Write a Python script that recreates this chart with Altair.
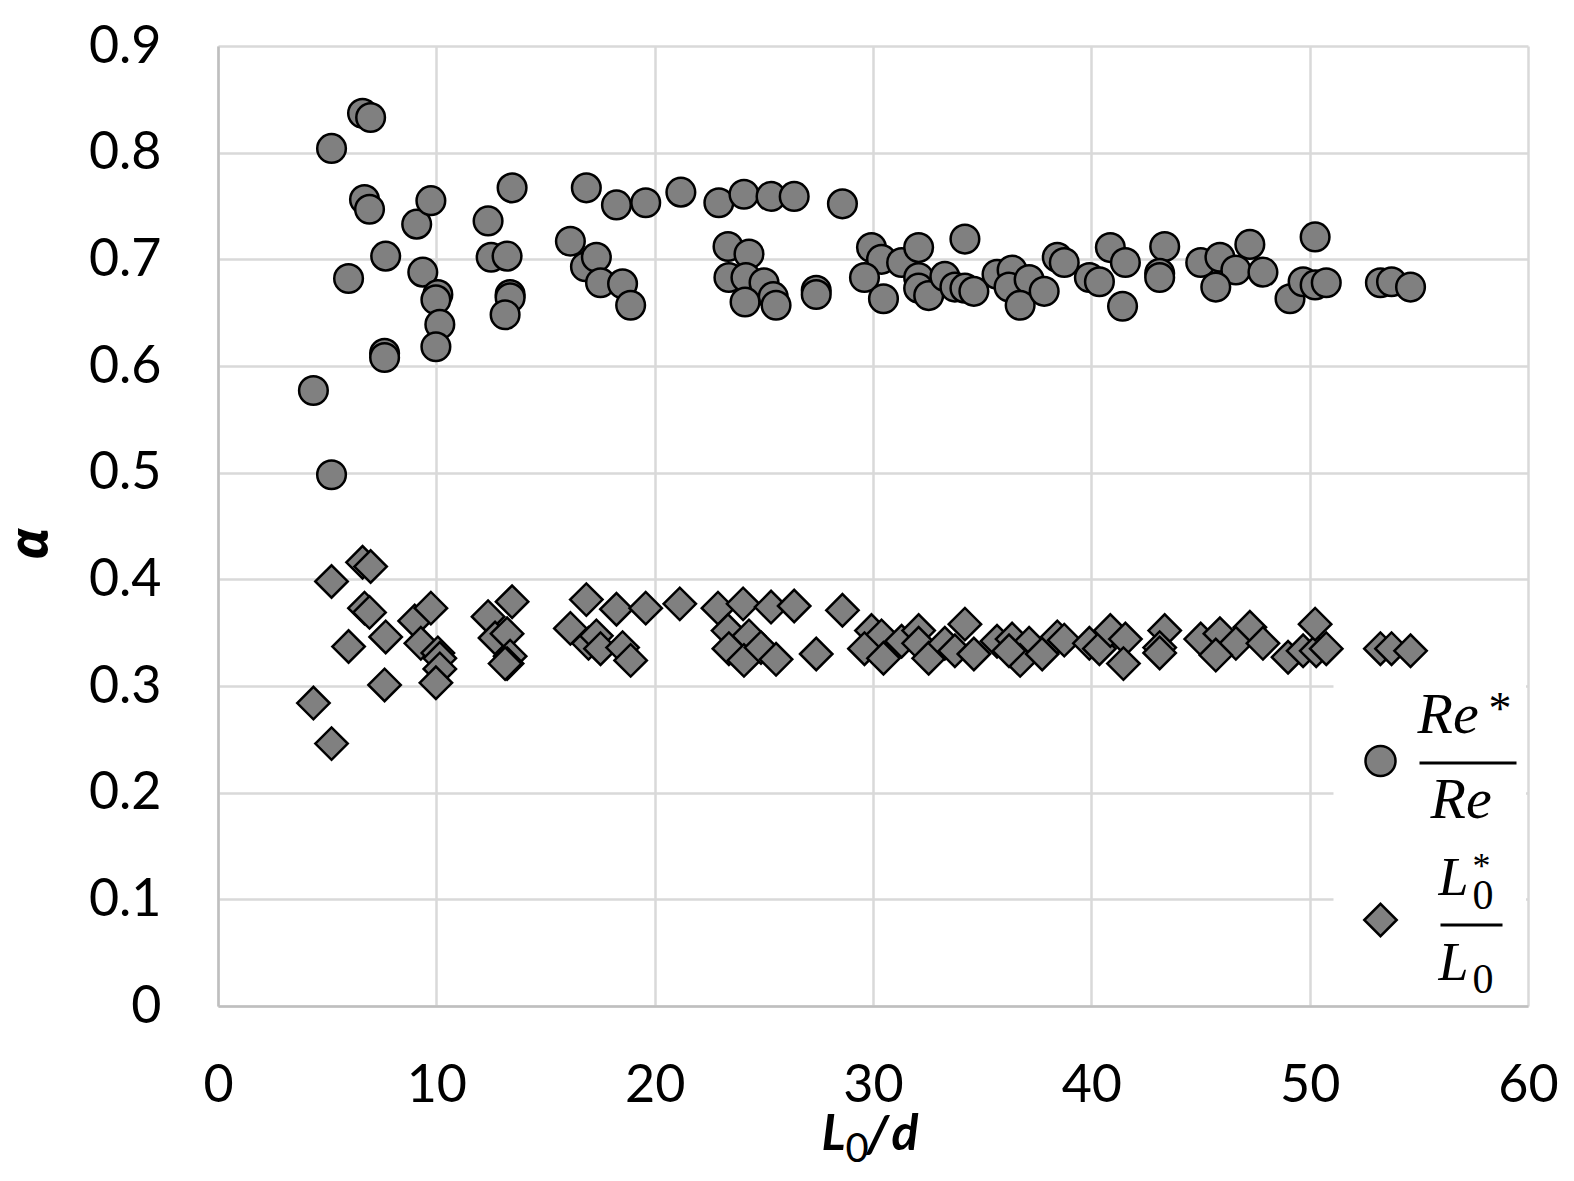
import altair as alt
import pandas as pd

# ---- data ----
re_x = [4.37, 5.20, 5.20, 5.98, 6.62, 6.99, 6.71, 6.94, 7.68, 7.63, 7.63, 9.10, 9.75, 9.38, 10.07, 9.98, 10.16, 9.98,
        13.47, 12.37, 12.51, 13.24, 13.38, 13.38, 13.15, 16.87, 18.25, 19.59, 16.14, 16.83, 17.33, 17.52, 18.53, 18.90,
        21.20, 22.94, 24.09, 25.33, 26.39, 28.60, 23.36, 24.32, 23.40, 24.18, 25.01, 25.43, 25.56, 24.14, 27.40, 27.40,
        29.93, 30.39, 29.61, 30.48, 31.31, 32.09, 34.21, 32.09, 32.09, 32.55, 33.29, 33.75, 34.21, 34.62, 35.68, 36.37,
        36.23, 37.15, 36.74, 37.84, 38.44, 38.76, 39.91, 40.37, 40.87, 41.56, 41.43, 43.36, 43.13, 43.13, 45.01, 45.89,
        47.26, 46.62, 47.86, 45.70, 49.10, 49.70, 50.25, 50.76, 50.25, 53.24, 53.75, 54.62]
re_y = [0.577, 0.498, 0.804, 0.682, 0.837, 0.833, 0.756, 0.747, 0.703, 0.612, 0.608, 0.733, 0.755, 0.688, 0.667, 0.662,
        0.639, 0.618, 0.767, 0.736, 0.702, 0.703, 0.667, 0.664, 0.648, 0.767, 0.751, 0.753, 0.717, 0.693, 0.702, 0.678,
        0.677, 0.657, 0.763, 0.753, 0.761, 0.759, 0.759, 0.752, 0.712, 0.705, 0.683, 0.683, 0.678, 0.665, 0.657, 0.660,
        0.671, 0.667, 0.711, 0.700, 0.683, 0.663, 0.697, 0.711, 0.719, 0.683, 0.673, 0.666, 0.684, 0.674, 0.673, 0.670,
        0.686, 0.690, 0.674, 0.681, 0.657, 0.670, 0.702, 0.697, 0.683, 0.679, 0.711, 0.697, 0.656, 0.712, 0.687, 0.683,
        0.697, 0.702, 0.714, 0.690, 0.688, 0.674, 0.663, 0.679, 0.676, 0.678, 0.721, 0.678, 0.679, 0.674]

l0_x = [6.62, 6.99, 5.20, 6.71, 6.94, 9.01, 9.75, 7.68, 5.98, 9.29, 10.07, 10.16, 10.16, 9.98, 7.63, 4.37, 5.20,
        13.47, 12.37, 12.69, 13.24, 13.38, 13.24, 13.15, 16.87, 18.25, 19.59, 16.14, 16.97, 17.33, 17.52, 18.53, 18.90,
        21.15, 22.90, 24.05, 25.33, 26.39, 28.60, 23.36, 24.32, 23.40, 24.09, 24.87, 25.56, 27.40, 29.93, 30.39, 29.61,
        30.48, 31.31, 32.09, 32.09, 32.55, 34.21, 33.29, 33.75, 34.62, 35.68, 36.37, 37.15, 36.74, 36.23, 37.75, 38.44,
        38.76, 39.91, 40.37, 40.87, 41.56, 41.47, 43.36, 43.13, 43.13, 45.01, 45.89, 47.26, 46.62, 47.86, 45.70, 49.01,
        49.70, 50.30, 50.76, 50.25, 53.24, 53.75, 54.62]
l0_y = [0.416, 0.412, 0.398, 0.373, 0.369, 0.361, 0.373, 0.346, 0.337, 0.340, 0.331, 0.326, 0.316, 0.303, 0.301, 0.284,
        0.246, 0.379, 0.365, 0.345, 0.349, 0.328, 0.321, 0.321, 0.381, 0.372, 0.373, 0.354, 0.340, 0.347, 0.335, 0.336,
        0.324, 0.377, 0.373, 0.377, 0.374, 0.375, 0.371, 0.352, 0.347, 0.335, 0.324, 0.336, 0.325, 0.330, 0.352, 0.347,
        0.335, 0.326, 0.342, 0.352, 0.340, 0.326, 0.358, 0.340, 0.333, 0.330, 0.342, 0.344, 0.340, 0.324, 0.333, 0.330,
        0.346, 0.343, 0.340, 0.335, 0.352, 0.344, 0.321, 0.352, 0.336, 0.331, 0.344, 0.349, 0.355, 0.340, 0.340, 0.329,
        0.327, 0.333, 0.333, 0.335, 0.358, 0.335, 0.335, 0.333]

x_ticks = [0, 10, 20, 30, 40, 50, 60]
y_ticks = [0, 0.1, 0.2, 0.3, 0.4, 0.5, 0.6, 0.7, 0.8, 0.9]

# ---- layout ----
W, H = 1310, 960
OX, OY = 217.5, 46          # page position of the plot origin (for decorations)
FILL = "#808080"
GRID = "#d9d9d9"
DOMAIN = "#bfbfbf"

df_c = pd.DataFrame({"x": re_x, "y": re_y})
df_d = pd.DataFrame({"x": l0_x, "y": l0_y})
one = pd.DataFrame({"k": [0]})

xs = alt.Scale(domain=[0, 60], nice=False)
ys = alt.Scale(domain=[0, 0.9], nice=False)

xaxis = alt.Axis(values=x_ticks, title=None, grid=True, ticks=False, labelFont="Lato", labelFontSize=52,
                 labelColor="black", labelPadding=54, domainColor=DOMAIN, domainWidth=2.5,
                 gridColor=GRID, gridWidth=2.5, labelFlush=False, labelOverlap=False, format="d")
yaxis = alt.Axis(values=y_ticks, title=None, grid=True, ticks=False, labelFont="Lato", labelFontSize=52,
                 labelColor="black", labelPadding=57, domainColor=DOMAIN, domainWidth=2.5,
                 gridColor=GRID, gridWidth=2.5, labelFlush=False, labelOverlap=False,
                 labelExpr="datum.value == 0 ? '0' : format(datum.value, '.1f')")

base_c = alt.Chart(df_c).mark_point(shape="circle", filled=True, fill=FILL, stroke="black", strokeWidth=2.5,
                                    size=820, opacity=1, fillOpacity=1).encode(
    x=alt.X("x:Q", scale=xs, axis=xaxis), y=alt.Y("y:Q", scale=ys, axis=yaxis))
base_d = alt.Chart(df_d).mark_point(shape="diamond", filled=True, fill=FILL, stroke="black", strokeWidth=2.5,
                                    size=1050, opacity=1, fillOpacity=1).encode(
    x=alt.X("x:Q", scale=xs), y=alt.Y("y:Q", scale=ys))

# legend box (white, covers grid lines)
leg_box = alt.Chart(one).mark_rect(fill="white", stroke=None).encode(
    x=alt.value(1333 - OX), x2=alt.value(W - 2), y=alt.value(680 - OY), y2=alt.value(H - 2))

leg_c = alt.Chart(one).mark_point(shape="circle", filled=True, fill=FILL, stroke="black", strokeWidth=2.5,
                                  size=900, opacity=1).encode(x=alt.value(1380 - OX), y=alt.value(761 - OY))
leg_d = alt.Chart(one).mark_point(shape="diamond", filled=True, fill=FILL, stroke="black", strokeWidth=2.5,
                                  size=1050, opacity=1).encode(x=alt.value(1380 - OX), y=alt.value(920 - OY))


def txt(s, px, py, size, style="italic", weight="normal", font="Liberation Serif", align="left", angle=0,
        baseline="alphabetic"):
    return alt.Chart(one).mark_text(text=s, font=font, fontSize=size, fontStyle=style, fontWeight=weight,
                                    align=align, baseline=baseline, angle=angle, color="black").encode(
        x=alt.value(px - OX), y=alt.value(py - OY))


def hline(px1, px2, py, w=3):
    return alt.Chart(one).mark_rule(color="black", strokeWidth=w).encode(
        x=alt.value(px1 - OX), x2=alt.value(px2 - OX), y=alt.value(py - OY))


legend_parts = [
    txt("Re", 1417, 733, 58),
    txt("*", 1488, 724, 46, style="normal"),
    hline(1419, 1516, 763),
    txt("Re", 1430, 818, 58),
    txt("L", 1438, 895, 54),
    txt("0", 1472, 909, 42, style="normal"),
    txt("*", 1472, 878, 36, style="normal"),
    hline(1440, 1502, 925),
    txt("L", 1438, 980, 54),
    txt("0", 1472, 993, 42, style="normal"),
]

# axis titles
title_parts = [
    txt("L", 821, 1150, 50, style="italic", weight="bold", font="Lato"),
    txt("0", 845, 1162, 40, style="normal", weight="normal", font="Lato"),
    txt("/", 866, 1152, 52, style="italic", weight="bold", font="Lato"),
    txt("d", 891, 1150, 50, style="italic", weight="bold", font="Lato"),
    txt("α", 46, 544, 53, style="italic", weight="bold", font="Open Sans", align="center", angle=270),
]

chart = alt.layer(base_c, base_d, leg_box, leg_c, leg_d, *legend_parts, *title_parts).properties(
    width=W, height=H,
    autosize=alt.AutoSizeParams(type="none"),
    padding={"left": 210, "top": 38, "right": 30, "bottom": 160},
    background="white",
).configure_view(stroke=None)

chart.save("out.html", embed_options={"renderer": "svg", "actions": False})
